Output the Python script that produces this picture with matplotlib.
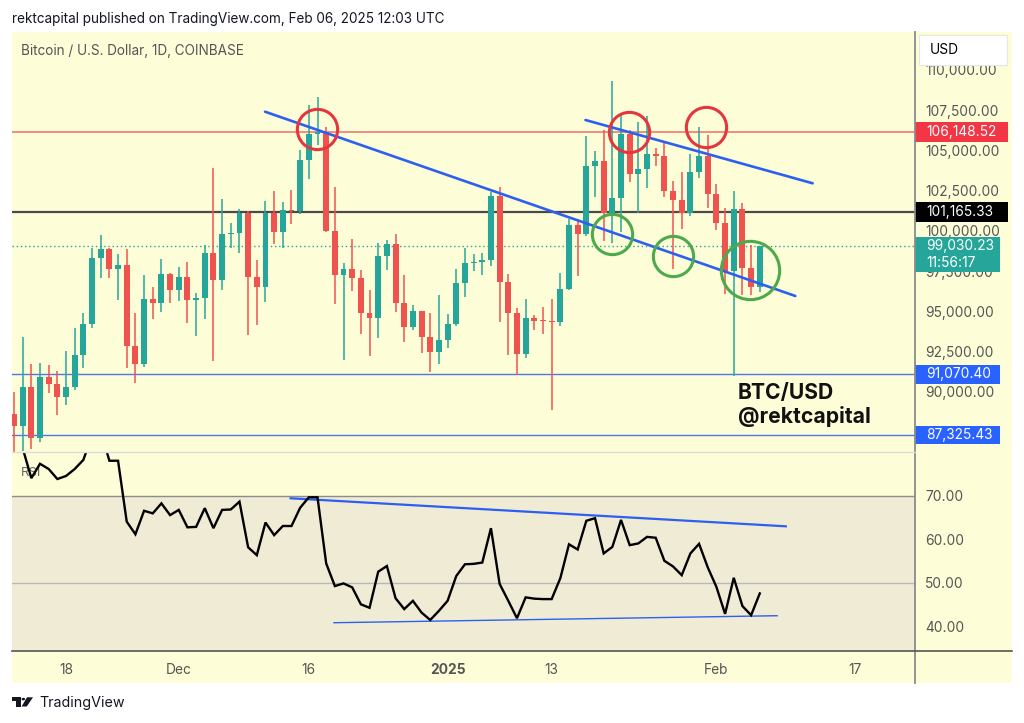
import matplotlib
matplotlib.use("Agg")
import matplotlib.pyplot as plt
import matplotlib.dates as mdates
import matplotlib.transforms as mtransforms
from matplotlib.patches import Rectangle, Polygon, Circle
import pandas as pd
import numpy as np

plt.rcParams['font.family'] = ['Inter', 'DejaVu Sans']

# ---------------- data ----------------
start_date = "2024-11-12"
opens = [88600, 87850, 90300, 87130, 90940, 90460, 89690, 90310, 92290, 94230,
         98290, 98860, 97650, 97860, 92860, 91710, 95790, 95520, 97330,
         96290, 97125, 95690, 95800, 98650, 96920, 99790, 99870, 101080, 97140,
         96520, 101080, 99900, 101290, 101250, 104375, 106040, 106140, 100000, 97230,
         97600, 97080, 94900, 94580, 98440, 99170, 95520, 94020, 95000, 93400, 92440,
         93190, 94230, 96770, 97980, 98080, 98190, 102190, 96810, 94860, 92360,
         94580, 94420, 94380, 94350, 96400, 100375, 99830, 104020, 104330, 101080,
         102020, 106040, 103540, 103810, 104750, 104625, 102460, 101940, 101080, 103650,
         104625, 102290, 100460, 97500, 101350, 97670, 96500]
highs = [89950, 93400, 91700, 91770, 91660, 91290, 92500, 93960, 94860, 98960,
         99730, 98900, 98540, 98860, 94860, 97230, 96520, 98230, 97400,
         97770, 98060, 96150, 99100, 103920, 101980, 100460, 101350, 101200, 98190,
         101875, 102500, 101790, 102540, 105040, 107810, 108330, 106460, 102700, 98020,
         99480, 97560, 96290, 99270, 99400, 99790, 97230, 95370, 95000, 94900, 96000,
         94830, 97640, 98900, 98580, 98600, 102400, 102710, 97310, 95230, 95730,
         94790, 95270, 95770, 97400, 100750, 100730, 105875, 104940, 106250, 109310,
         107190, 106290, 106770, 107125, 105170, 105460, 103125, 103650, 104790, 106420,
         105940, 102900, 101420, 102460, 101710, 99125, 99000]
lows = [85100, 86300, 86460, 86900, 89900, 88540, 89200, 90100, 91460, 93960,
        97080, 97080, 95670, 91500, 90520, 91560, 94540, 94960, 95540,
        95625, 94270, 93440, 94540, 91920, 96290, 98960, 98650, 93520, 94125,
        95580, 99210, 98960, 100450, 101050, 103230, 105310, 99900, 95420, 91980,
        96250, 93560, 92230, 93330, 97580, 94940, 93080, 93850, 92380, 91230, 91710,
        92730, 94100, 95875, 97520, 97270, 97810, 94330, 92270, 91040, 92080,
        93830, 93560, 88850, 94100, 96300, 97190, 99700, 102125, 99375, 99270,
        99900, 103020, 101080, 102670, 104000, 102100, 97600, 100100, 100950, 103300,
        101420, 100040, 96080, 91000, 96000, 96040, 96200]
closes = [87850, 90300, 87130, 90940, 90460, 89690, 90310, 92290, 94230, 98290,
          98860, 97650, 97860, 92860, 91710, 95790, 95520, 97330, 96290,
          97125, 95690, 95800, 98650, 96920, 99790, 99870, 101080, 97140, 96520,
          101080, 99900, 101290, 101250, 104375, 106040, 106140, 100000, 97230, 97600,
          97080, 94900, 94580, 98440, 99170, 95520, 94020, 95000, 93400, 92440, 93190,
          94230, 96770, 97980, 98080, 98190, 102190, 96810, 94860, 92360, 94580,
          94420, 94380, 94350, 96400, 100375, 99830, 104020, 104330, 101080, 102020,
          106040, 103540, 103810, 104750, 104625, 102460, 101940, 101080, 103650, 104625,
          102290, 100460, 97500, 101350, 97670, 96500, 99030.23]
rsi = [82.5, 81.0, 74.1, 77.4, 76.2, 73.9, 74.6, 76.2, 78.3, 84.0, 85.0, 78.1, 78.1,
       64.1, 61.2, 66.6, 66.0, 68.3, 65.6,
       66.8, 62.8, 62.9, 67.2, 62.6, 66.8, 66.9, 68.7, 58.2, 56.4, 63.9, 61.0, 63.1,
       63.1, 67.3, 69.7, 69.7, 54.5, 49.3, 49.9, 49.0, 45.1, 44.3, 52.6, 53.9, 46.5,
       44.0, 45.9, 43.2, 41.5, 43.6,
       45.9, 51.6, 54.3, 54.4, 54.7, 62.6, 49.8, 45.9, 41.9, 46.7, 46.4, 46.3, 46.3,
       51.1, 58.9, 57.7, 64.3, 64.9, 56.8, 58.3, 64.5, 58.7, 59.1, 60.6, 60.4, 55.1,
       53.8, 51.8, 56.8, 59.0, 53.6,
       49.1, 42.9, 51.2, 44.7, 42.6, 47.6]

# horizontal levels
level_red = 106148.52
level_black = 101165.33
level_blue_hi = 91070.40
level_blue_lo = 87325.43
last_price = 99030.23
countdown = "11:56:17"

# drawn trend lines (day offsets from start_date, price / rsi)
trend_main_days, trend_main_vals = [28.95, 90.1], [107402, 95948]
trend_upper_days, trend_upper_vals = [65.9, 92.1], [106886, 102952]
rsi_upper_days, rsi_upper_vals = [31.9, 89.0], [69.47, 63.03]
rsi_lower_days, rsi_lower_vals = [36.9, 88.0], [40.87, 42.48]
red_circle_days, red_circle_vals = [34.95, 70.93, 79.82], [106339, 106153, 106463]
green_circle_days, green_circle_vals = [68.97, 76.0, 84.89], [99789, 98422, 97552]
green_circle_sizes = [29, 29, 42]

price_ticks = [90000, 92500, 95000, 97500, 100000, 102500, 105000, 107500, 110000]
rsi_ticks = [40, 50, 60, 70]
time_tick_dates = ["2024-11-18", "2024-12-01", "2024-12-16", "2025-01-01",
                   "2025-01-13", "2025-02-01", "2025-02-17"]
time_tick_labels = ["18", "Dec", "16", "2025", "13", "Feb", "17"]

# ---------------- styling ----------------
W, H = 1024, 723
BG = '#fdfdd8'
BAND = '#efebd5'
GREEN = '#26a69a'
RED = '#ef5350'
TLBLUE = '#2d5ff0'
TXT = '#555555'
AXFS = 9.9

fig = plt.figure(figsize=(W / 100, H / 100), dpi=100)
fig.patch.set_facecolor('white')

def fx(px):
    return px / W

def fy(py):
    return 1 - py / H

fig.add_artist(Rectangle((fx(12), fy(683)), 1000 / W, 651 / H, transform=fig.transFigure,
                         facecolor=BG, edgecolor='none', zorder=-5))

ax = fig.add_axes([fx(12), fy(452), 903 / W, 420 / H])
ax2 = fig.add_axes([fx(12), fy(651), 903 / W, 199 / H], sharex=ax)
for a in (ax, ax2):
    a.set_facecolor('none')
    for s in a.spines.values():
        s.set_visible(False)

dates = pd.date_range(start_date, periods=len(closes), freq='D')
xd = mdates.date2num(dates.to_pydatetime())
x0 = mdates.date2num(pd.Timestamp(start_date).to_pydatetime())

ax.set_xlim(x0 - 0.23, x0 + 103.9)
ax.set_ylim(86252, 112355)
ax2.set_ylim(34.37, 80.11)

o = np.array(opens, float); c = np.array(closes, float)
h = np.array(highs, float); l = np.array(lows, float)
up = c >= o
cols = np.where(up, GREEN, RED)
ax.vlines(xd, l, h, colors=cols, linewidth=1.1, zorder=3)
body_bot = np.minimum(o, c)
body_h = np.maximum(np.abs(c - o), 70)
ax.bar(xd, body_h, bottom=body_bot, width=0.68, color=cols, linewidth=0, zorder=4)

# horizontal levels
ax.axhline(level_red, color='#f07a74', lw=1.2, zorder=2)
ax.axhline(level_black, color='#4a4a4a', lw=1.6, zorder=2)
ax.axhline(level_blue_hi, color='#4f78e6', lw=1.0, zorder=2)
ax.axhline(level_blue_lo, color='#4f78e6', lw=1.0, zorder=2)
ax.axhline(last_price, color=GREEN, lw=1.0, ls=(0, (1, 2)), zorder=2)

# trend lines
ax.plot(x0 + np.array(trend_main_days), trend_main_vals, color=TLBLUE, lw=1.9, zorder=6,
        solid_capstyle='round')
ax.plot(x0 + np.array(trend_upper_days), trend_upper_vals, color=TLBLUE, lw=1.9, zorder=6,
        solid_capstyle='round')

for d, v in zip(red_circle_days, red_circle_vals):
    ax.plot([x0 + d], [v], marker='o', ms=29, mfc='none', mec='#e5353d', mew=2.2,
            zorder=7, clip_on=False)
for d, v, s in zip(green_circle_days, green_circle_vals, green_circle_sizes):
    ax.plot([x0 + d], [v], marker='o', ms=s, mfc='none', mec='#4caa4c', mew=2.2,
            zorder=7, clip_on=False)

# price axis ticks
ax.yaxis.tick_right()
ax.set_yticks(price_ticks)
ax.set_yticklabels([f"{t:,.2f}" for t in price_ticks])
ax.tick_params(axis='y', length=0, pad=7.5, labelsize=AXFS, labelcolor=TXT)
ax.tick_params(axis='x', bottom=False, labelbottom=False)

# RSI panel
ax2.axhspan(30, 70, color=BAND, lw=0, zorder=0)
ax2.axhline(70, color='#8c8c8c', lw=1.0, zorder=1)
ax2.axhline(50, color='#b8b8b8', lw=1.0, zorder=1)
ax2.plot(xd, rsi, color='black', lw=1.7, zorder=4, solid_joinstyle='miter')
ax2.plot(x0 + np.array(rsi_upper_days), rsi_upper_vals, color=TLBLUE, lw=1.6, zorder=3)
ax2.plot(x0 + np.array(rsi_lower_days), rsi_lower_vals, color=TLBLUE, lw=1.0, zorder=3)
ax2.yaxis.tick_right()
ax2.set_yticks(rsi_ticks)
ax2.set_yticklabels([f"{t:.2f}" for t in rsi_ticks])
ax2.tick_params(axis='y', length=0, pad=7.5, labelsize=AXFS, labelcolor=TXT)
tick_x = mdates.date2num([pd.Timestamp(t).to_pydatetime() for t in time_tick_dates])
ax2.set_xticks(tick_x)
ax2.set_xticklabels(time_tick_labels)
ax2.tick_params(axis='x', length=0, pad=9, labelsize=AXFS, labelcolor=TXT)
for lab in ax2.get_xticklabels():
    if lab.get_text() == "2025":
        lab.set_fontweight('bold')
fig.text(fx(21), fy(473), "RSI", fontsize=9.5, color='#666666', va='center', ha='left',
         zorder=-1)

# frame lines
fig.add_artist(plt.Line2D([fx(915), fx(915)], [fy(32), fy(683)], transform=fig.transFigure,
                          color='#8a8a8a', lw=1.3, zorder=3))
fig.add_artist(plt.Line2D([fx(12), fx(1012)], [fy(651), fy(651)], transform=fig.transFigure,
                          color='#555555', lw=1.2, zorder=3))
fig.add_artist(plt.Line2D([fx(12), fx(915)], [fy(452), fy(452)], transform=fig.transFigure,
                          color='#dcdcdc', lw=1.0, zorder=3))

# price tags on right axis
trans = mtransforms.blended_transform_factory(fig.transFigure, ax.transData)
ppx = (112355 - 86252) / 420.0

def tag(val, lines, fc, tc, right_px, above_px, below_px):
    ax.add_artist(Rectangle((fx(915), val - below_px * ppx), (right_px - 915) / W,
                            (above_px + below_px) * ppx, transform=trans, facecolor=fc,
                            edgecolor='none', zorder=10, clip_on=False))
    for i, t in enumerate(lines):
        ax.text(fx(926), val - i * 17 * ppx, t, transform=trans, color=tc, fontsize=AXFS,
                va='center', ha='left', zorder=11, clip_on=False)

tag(level_red, [f"{level_red:,.2f}"], '#f23645', 'white', 1008, 9.7, 9.7)
tag(level_black, [f"{level_black:,.2f}"], '#000000', 'white', 1008, 9.7, 9.7)
tag(last_price, [f"{last_price:,.2f}", countdown], GREEN, 'white', 1000, 9, 26)
tag(level_blue_hi, [f"{level_blue_hi:,.2f}"], '#2962ff', 'white', 1000, 9.2, 9.2)
tag(level_blue_lo, [f"{level_blue_lo:,.2f}"], '#2962ff', 'white', 1000, 9.2, 9.2)

# USD box
fig.add_artist(Rectangle((fx(919), fy(65)), 88 / W, 30 / H, transform=fig.transFigure,
                         facecolor='white', edgecolor='#e6e6e6', lw=0.8, zorder=12))
fig.text(fx(930), fy(50), "USD", fontsize=AXFS, color='black', va='center', ha='left',
         zorder=13)

# header texts
fig.text(fx(12), fy(19), "rektcapital published on TradingView.com, Feb 06, 2025 12:03 UTC",
         fontsize=9.75, color='#131722', va='center', ha='left')
fig.text(fx(21), fy(51), "Bitcoin / U.S. Dollar, 1D, COINBASE", fontsize=9.75, color=TXT,
         va='center', ha='left')

# annotation text
fig.text(fx(738), fy(399), "BTC/USD", fontsize=15.2, fontweight='bold', color='#111111',
         va='baseline', ha='left', zorder=8)
fig.text(fx(738), fy(423), "@rektcapital", fontsize=15.2, fontweight='bold', color='#111111',
         va='baseline', ha='left', zorder=8)

# TradingView logo and name
fig.add_artist(Polygon([(fx(11.7), fy(697.3)), (fx(20.7), fy(697.3)), (fx(20.7), fy(706.5)),
                        (fx(16.2), fy(706.5)), (fx(16.2), fy(700.8)), (fx(11.7), fy(700.8))],
                       closed=True, transform=fig.transFigure, facecolor='#131722',
                       edgecolor='none'))
fig.add_artist(Circle((fx(23.3), fy(699.1)), 1.8 / W, transform=fig.transFigure,
                      facecolor='#131722', edgecolor='none'))
fig.add_artist(Polygon([(fx(27.0), fy(697.3)), (fx(33.0), fy(697.3)), (fx(26.8), fy(706.5)),
                        (fx(21.6), fy(706.5))], closed=True, transform=fig.transFigure,
                       facecolor='#131722', edgecolor='none'))
fig.text(fx(39), fy(703), "TradingView", fontsize=10.3, color='#131722', va='center',
         ha='left')

fig.savefig("out.png", dpi=100, facecolor='white')
